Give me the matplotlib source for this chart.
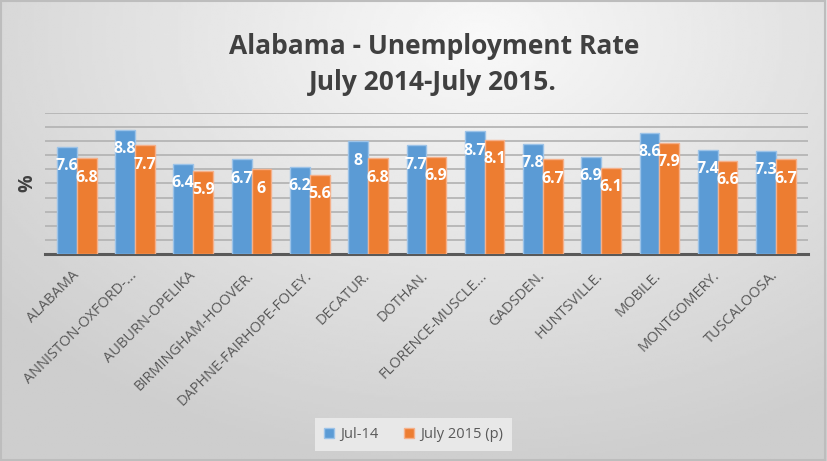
import numpy as np
import matplotlib
matplotlib.use("Agg")
import matplotlib.pyplot as plt
from matplotlib.patches import Rectangle

areas = ["ALABAMA", "ANNISTON-OXFORD-...", "AUBURN-OPELIKA", "BIRMINGHAM-HOOVER.",
         "DAPHNE-FAIRHOPE-FOLEY.", "DECATUR.", "DOTHAN.", "FLORENCE-MUSCLE...",
         "GADSDEN.", "HUNTSVILLE.", "MOBILE.", "MONTGOMERY.", "TUSCALOOSA."]
jul14 = [7.6, 8.8, 6.4, 6.7, 6.2, 8, 7.7, 8.7, 7.8, 6.9, 8.6, 7.4, 7.3]
jul15 = [6.8, 7.7, 5.9, 6, 5.6, 6.8, 6.9, 8.1, 6.7, 6.1, 7.9, 6.6, 6.7]
series_names = ["Jul-14", "July 2015 (p)"]

plt.rcParams['font.family'] = ['Open Sans', 'DejaVu Sans']

fig = plt.figure(figsize=(8.27, 4.61), dpi=100)

# background gradient
bg = fig.add_axes([0, 0, 1, 1], zorder=-10)
yy, xx = np.mgrid[0:1:200j, 0:1:300j]
d = np.sqrt(((xx - 0.58) * 1.1) ** 2 + ((yy - 0.92) * 0.9) ** 2)
shade = 0.975 - 0.17 * np.clip(d / 0.85, 0, 1)
bg.imshow(shade, cmap='gray', vmin=0, vmax=1, origin='lower',
          extent=[0, 1, 0, 1], aspect='auto')
bg.add_patch(Rectangle((0.001, 0.002), 0.997, 0.995, fill=False,
                       edgecolor='#bdbdbd', lw=1.5, transform=bg.transAxes))
bg.axis('off')

ax = fig.add_axes([0.054, 0.449, 0.923, 0.306])
ax.patch.set_alpha(0)
x = np.arange(len(areas))
w = 0.34
b1 = ax.bar(x - w / 2, jul14, w, color='#5b9bd5', edgecolor='#9cc3e8', lw=1,
            label=series_names[0], zorder=3)
b2 = ax.bar(x + w / 2, jul15, w, color='#ed7d31', edgecolor='#f5b08a', lw=1,
            label=series_names[1], zorder=3)

for bars, vals in ((b1, jul14), (b2, jul15)):
    for r, v in zip(bars, vals):
        ax.annotate(f"{v:g}", (r.get_x() + r.get_width() / 2, v),
                    xytext=(0, -14), textcoords='offset points',
                    ha='center', va='center', color='white',
                    fontsize=11.5, fontweight='bold', zorder=4)

ax.set_ylim(0, 10)
ax.set_xlim(-0.55, len(areas) - 0.45)
ax.set_yticks(np.arange(0, 11, 1))
ax.set_yticklabels([])
ax.tick_params(axis='y', length=0)
ax.tick_params(axis='x', length=0, pad=14)
ax.yaxis.grid(True, color='#b5b5b5', lw=1.3, zorder=0)
ax.set_axisbelow(True)
for s in ('top', 'right', 'left'):
    ax.spines[s].set_visible(False)
ax.spines['bottom'].set_color('#595959')
ax.spines['bottom'].set_linewidth(2.2)

ax.set_xticks(x)
ax.set_xticklabels(areas, rotation=45, ha='right', va='center',
                   rotation_mode='anchor', fontsize=10.5, color='#595959')
ax.set_ylabel('%', fontsize=14, fontweight='bold', color='#404040', labelpad=2)

fig.text(0.525, 0.90, "Alabama - Unemployment Rate", ha='center', va='center',
         fontsize=19, fontweight='bold', color='#404040')
fig.text(0.524, 0.82, "July 2014-July 2015.", ha='center', va='center',
         fontsize=19, fontweight='bold', color='#404040')

leg = fig.legend(handles=[b1, b2], loc='center', bbox_to_anchor=(0.5, 0.058),
                 ncol=2, frameon=True, fontsize=10.5, handlelength=0.7,
                 handleheight=0.7, handletextpad=0.4, columnspacing=1.8,
                 borderpad=0.6)
leg.get_frame().set_facecolor('#e8e8e8')
leg.get_frame().set_edgecolor('none')
leg.get_frame().set_alpha(1)
leg.get_frame().set_boxstyle('square', pad=0)
for t in leg.get_texts():
    t.set_color('#595959')

fig.savefig("out.png", dpi=100)
